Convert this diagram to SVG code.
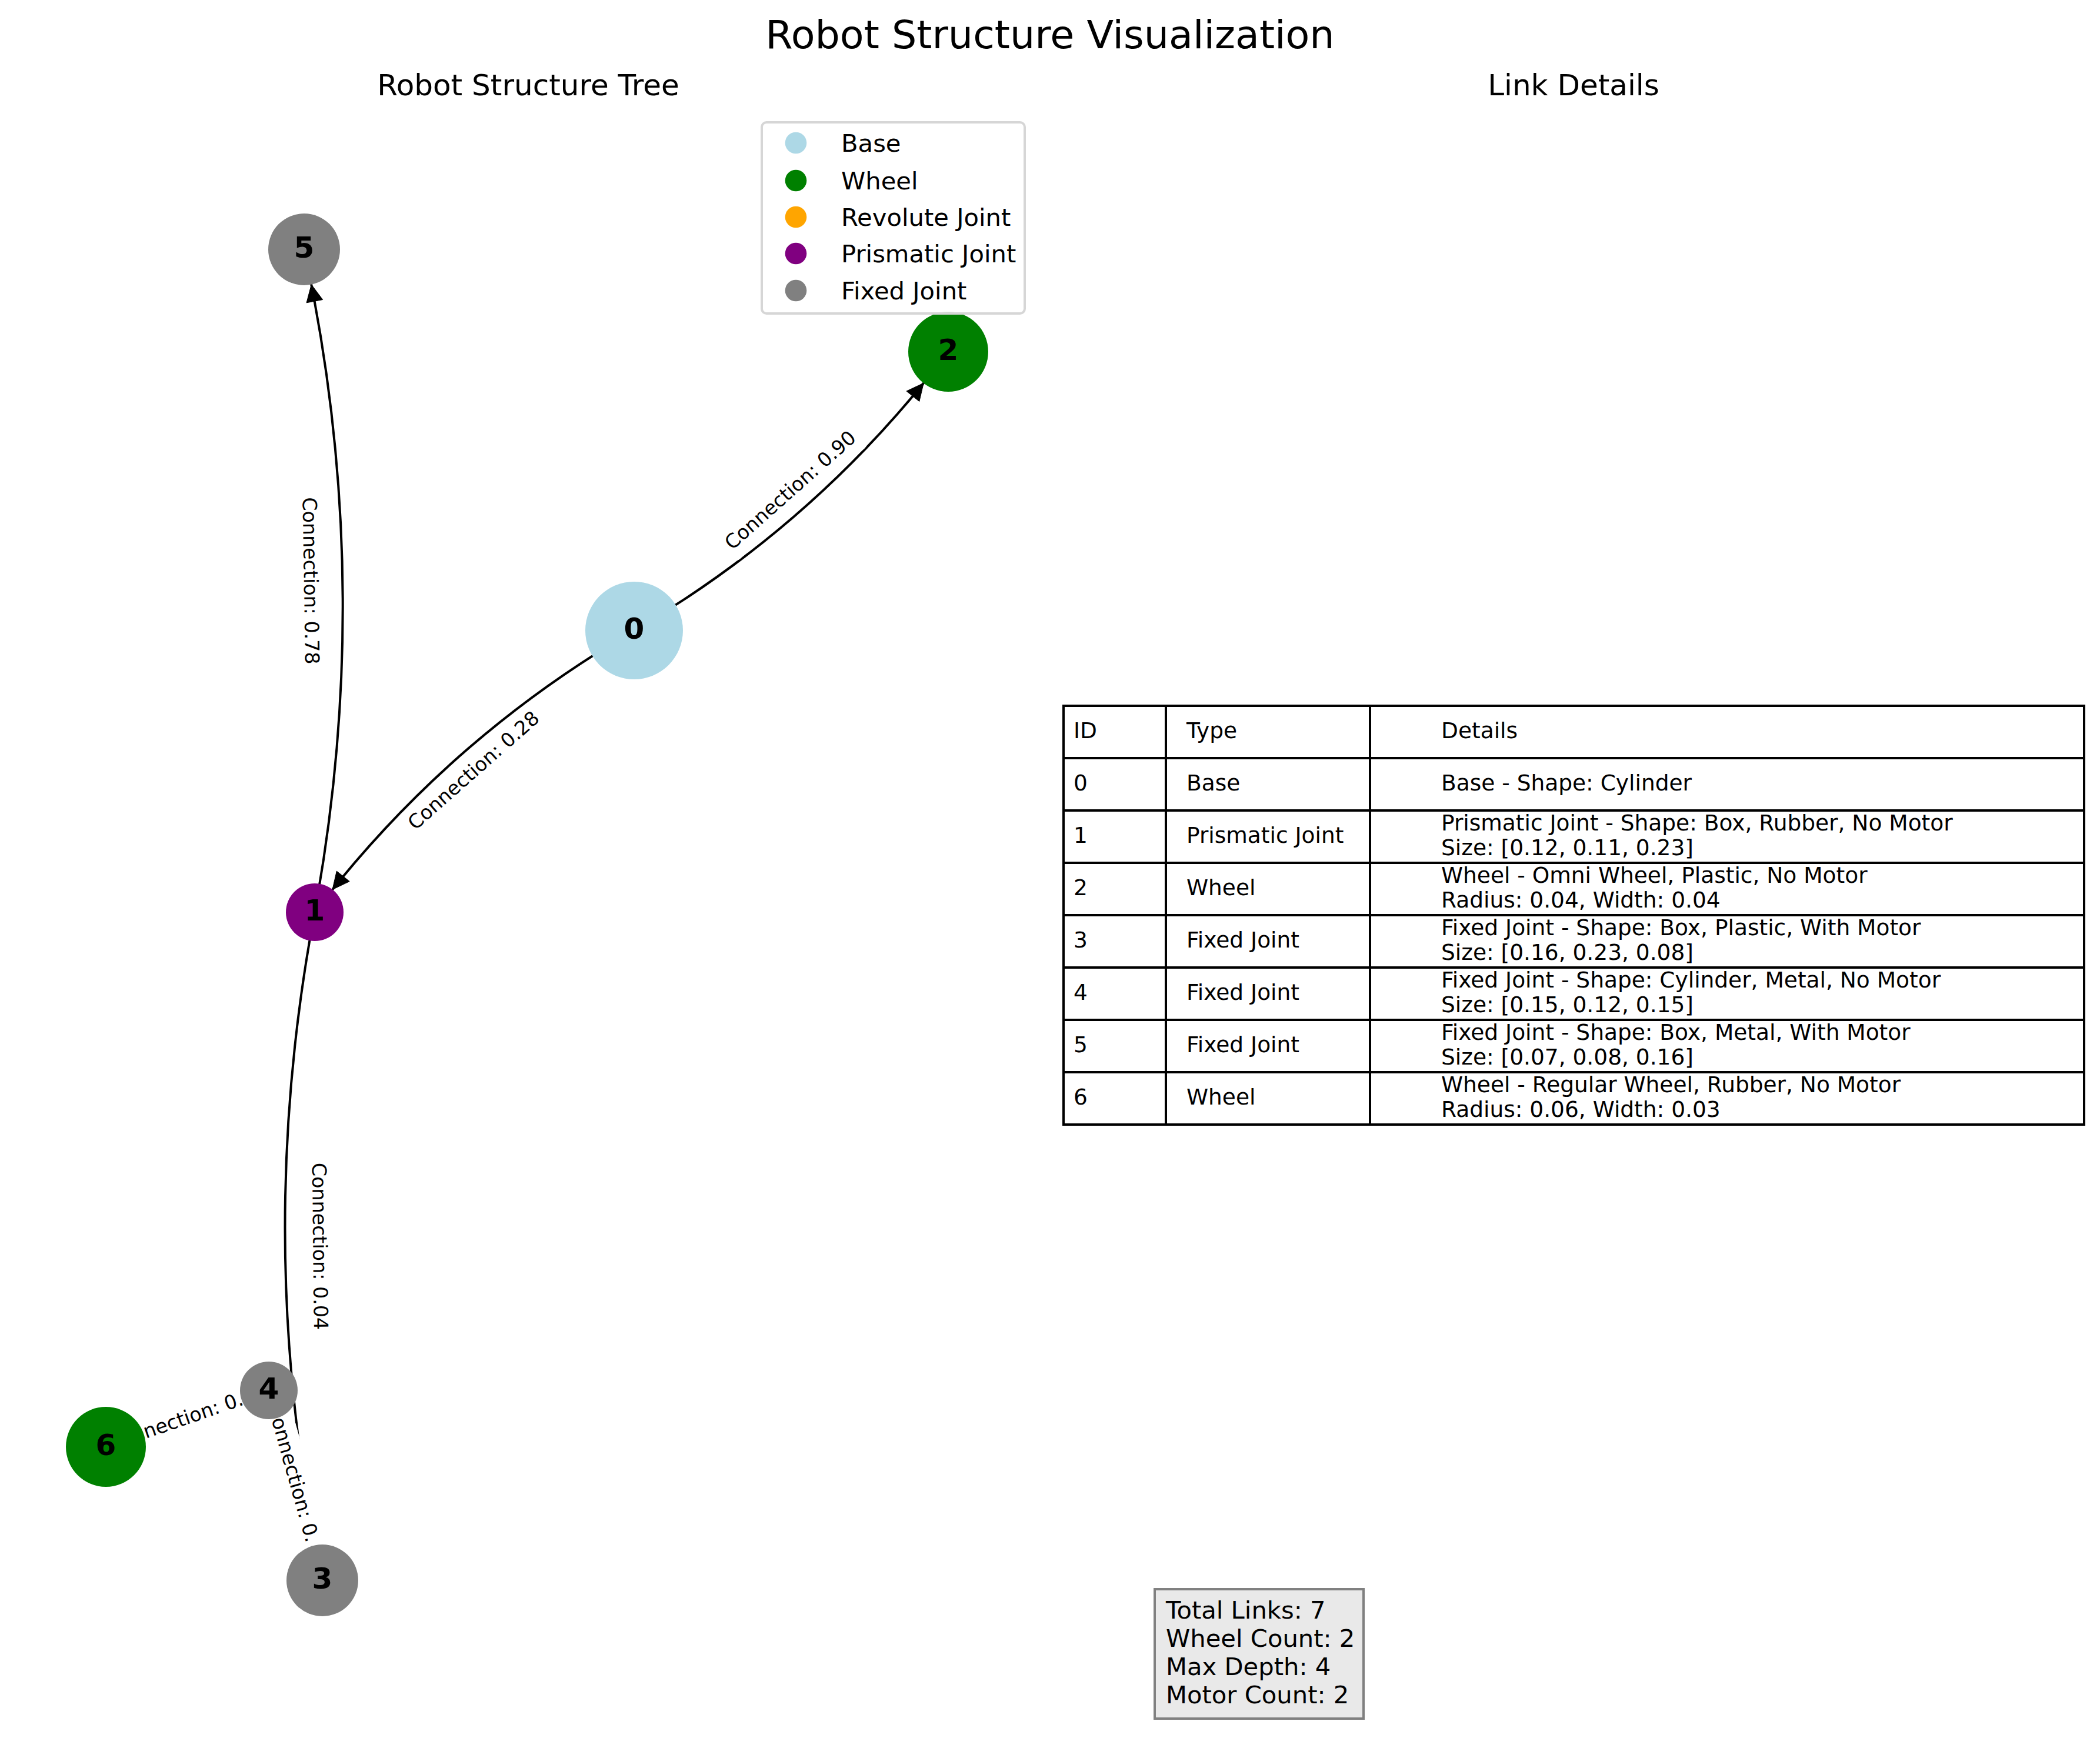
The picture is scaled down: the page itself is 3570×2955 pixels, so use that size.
<svg xmlns="http://www.w3.org/2000/svg" width="3570" height="2955" viewBox="0 0 3570 2955">
<style>
text{font-family:"DejaVu Sans","Liberation Sans",sans-serif;fill:#000}
.title{font-size:66.7px}
.sub{font-size:50px}
.edge{fill:none;stroke:#000;stroke-width:4}
.head{fill:#000;stroke:#000;stroke-width:1}
.elbox{fill:#fff;stroke:#fff;stroke-width:1}
.el{font-size:33.3px;text-anchor:middle}
.elp{font-size:33.3px}
.nl{font-size:50px;font-weight:bold;text-anchor:middle}
.leg{font-size:41.7px}
.tb{font-size:37.5px}
.grid{stroke:#000;stroke-width:4;fill:none}
.stat{font-size:41.7px}
</style>
<rect x="0" y="0" width="3570" height="2955" fill="#fff"/>
<text class="title" x="1785" y="82" text-anchor="middle">Robot Structure Visualization</text>
<text class="sub" x="898" y="162" text-anchor="middle">Robot Structure Tree</text>
<text class="sub" x="2675" y="162" text-anchor="middle">Link Details</text>

<g id="connectors">
<path class="edge" d="M1078,1072 Q1392.4,888.4 1612,598"/>
<polygon class="head" points="1570.2,651.3 1562.8,682.6 1541.0,665.0"/>
<path class="edge" d="M1078,1072 Q758.6,1257.2 535,1551"/>
<polygon class="head" points="565.1,1512.5 594.2,1498.6 572.3,1481.1"/>
<path class="edge" d="M535,1551 Q638.7,985.7 517,424"/>
<polygon class="head" points="529.3,483.7 548.6,509.5 521.1,514.8"/>
<path class="edge" d="M535,1551 Q427.9,2120.3 548,2687"/>
<polygon class="head" points="536.0,2627.3 544.3,2596.2 516.8,2601.4"/>
<path class="edge" d="M457,2364 Q308.9,2384.3 180,2460"/>
<polygon class="head" points="240.3,2428.1 272.5,2428.4 260.5,2403.0"/>
<path class="edge" d="M457,2364 Q470.2,2534.6 548,2687"/>
<polygon class="head" points="522.2,2631.7 523.7,2599.5 497.9,2610.5"/>
</g>

<g id="edge-labels">
<g transform="translate(1345,835) rotate(-41.59)"><rect class="elbox" x="-152" y="-28" width="304" height="56" rx="10"/><text class="el" x="0" y="9.2">Connection: 0.90</text></g>
<g transform="translate(806.5,1311.5) rotate(-41.42)"><rect class="elbox" x="-152" y="-28" width="304" height="56" rx="10"/><text class="el" x="0" y="9.2">Connection: 0.28</text></g>
<g transform="translate(526,987.5) rotate(89.08)"><rect class="elbox" x="-152" y="-28" width="304" height="56" rx="10"/><text class="el" x="0" y="9.2">Connection: 0.78</text></g>
<g transform="translate(541.5,2119) rotate(89.34)"><rect class="elbox" x="-152" y="-28" width="304" height="56" rx="10"/><text class="el" x="0" y="9.2">Connection: 0.04</text></g>
<g transform="translate(318.5,2412) rotate(-19.12)"><rect class="elbox" x="-152" y="-28" width="304" height="56" rx="10"/><text class="elp" x="-77.5" y="9.2">nection: 0.</text></g>
<g transform="translate(502.5,2525.5) rotate(74.27)"><rect class="elbox" x="-152" y="-28" width="304" height="56" rx="10"/><text class="elp" x="-119" y="9.2">onnection: 0.</text></g>
</g>

<g id="node-0"><circle cx="1078" cy="1072" r="83" fill="#ADD8E6"/><text class="nl" x="1078" y="1086">0</text></g>
<g id="node-1"><circle cx="535" cy="1551" r="49" fill="#800080"/><text class="nl" x="535" y="1565">1</text></g>
<g id="node-2"><circle cx="1612" cy="598" r="68" fill="#008000"/><text class="nl" x="1612" y="612">2</text></g>
<g id="node-3"><circle cx="548" cy="2687" r="61" fill="#808080"/><text class="nl" x="548" y="2701">3</text></g>
<g id="node-4"><circle cx="457" cy="2364" r="49" fill="#808080"/><text class="nl" x="457" y="2378">4</text></g>
<g id="node-5"><circle cx="517" cy="424" r="61" fill="#808080"/><text class="nl" x="517" y="438">5</text></g>
<g id="node-6"><circle cx="180" cy="2460" r="68" fill="#008000"/><text class="nl" x="180" y="2474">6</text></g>

<g id="legend">
<rect x="1295" y="208" width="447" height="325" rx="8" fill="#fff" fill-opacity="0.8" stroke="#d6d6d6" stroke-width="4"/>
<circle cx="1353" cy="243" r="18.3" fill="#ADD8E6"/><text class="leg" x="1430" y="258">Base</text>
<circle cx="1353" cy="307" r="18.3" fill="#008000"/><text class="leg" x="1430" y="322">Wheel</text>
<circle cx="1353" cy="369" r="18.3" fill="#FFA500"/><text class="leg" x="1430" y="384">Revolute Joint</text>
<circle cx="1353" cy="431" r="18.3" fill="#800080"/><text class="leg" x="1430" y="446">Prismatic Joint</text>
<circle cx="1353" cy="494" r="18.3" fill="#808080"/><text class="leg" x="1430" y="509">Fixed Joint</text>
</g>

<g id="table">
<rect x="1808" y="1200" width="1735" height="712" fill="#fff"/>
<g class="grid">
<rect x="1808" y="1200" width="1735" height="712"/>
<line x1="1808" y1="1289" x2="3543" y2="1289"/>
<line x1="1808" y1="1378" x2="3543" y2="1378"/>
<line x1="1808" y1="1467" x2="3543" y2="1467"/>
<line x1="1808" y1="1556" x2="3543" y2="1556"/>
<line x1="1808" y1="1645" x2="3543" y2="1645"/>
<line x1="1808" y1="1734" x2="3543" y2="1734"/>
<line x1="1808" y1="1823" x2="3543" y2="1823"/>
<line x1="1982" y1="1200" x2="1982" y2="1912"/>
<line x1="2329" y1="1200" x2="2329" y2="1912"/>
</g>
<text class="tb" x="1825" y="1255">ID</text><text class="tb" x="2017" y="1255">Type</text><text class="tb" x="2450" y="1255">Details</text>
<text class="tb" x="1825" y="1344">0</text><text class="tb" x="2017" y="1344">Base</text><text class="tb" x="2450" y="1344">Base - Shape: Cylinder</text>
<text class="tb" x="1825" y="1433">1</text><text class="tb" x="2017" y="1433">Prismatic Joint</text><text class="tb" x="2450" y="1411.5">Prismatic Joint - Shape: Box, Rubber, No Motor</text><text class="tb" x="2450" y="1453.5">Size: [0.12, 0.11, 0.23]</text>
<text class="tb" x="1825" y="1522">2</text><text class="tb" x="2017" y="1522">Wheel</text><text class="tb" x="2450" y="1500.5">Wheel - Omni Wheel, Plastic, No Motor</text><text class="tb" x="2450" y="1542.5">Radius: 0.04, Width: 0.04</text>
<text class="tb" x="1825" y="1611">3</text><text class="tb" x="2017" y="1611">Fixed Joint</text><text class="tb" x="2450" y="1589.5">Fixed Joint - Shape: Box, Plastic, With Motor</text><text class="tb" x="2450" y="1631.5">Size: [0.16, 0.23, 0.08]</text>
<text class="tb" x="1825" y="1700">4</text><text class="tb" x="2017" y="1700">Fixed Joint</text><text class="tb" x="2450" y="1678.5">Fixed Joint - Shape: Cylinder, Metal, No Motor</text><text class="tb" x="2450" y="1720.5">Size: [0.15, 0.12, 0.15]</text>
<text class="tb" x="1825" y="1789">5</text><text class="tb" x="2017" y="1789">Fixed Joint</text><text class="tb" x="2450" y="1767.5">Fixed Joint - Shape: Box, Metal, With Motor</text><text class="tb" x="2450" y="1809.5">Size: [0.07, 0.08, 0.16]</text>
<text class="tb" x="1825" y="1878">6</text><text class="tb" x="2017" y="1878">Wheel</text><text class="tb" x="2450" y="1856.5">Wheel - Regular Wheel, Rubber, No Motor</text><text class="tb" x="2450" y="1898.5">Radius: 0.06, Width: 0.03</text>
</g>

<g id="stats">
<rect x="1963" y="2702" width="355" height="220" fill="#e9e9e9" stroke="#808080" stroke-width="4"/>
<text class="stat" x="1982" y="2752">Total Links: 7</text>
<text class="stat" x="1982" y="2800">Wheel Count: 2</text>
<text class="stat" x="1982" y="2848">Max Depth: 4</text>
<text class="stat" x="1982" y="2896">Motor Count: 2</text>
</g>
</svg>
